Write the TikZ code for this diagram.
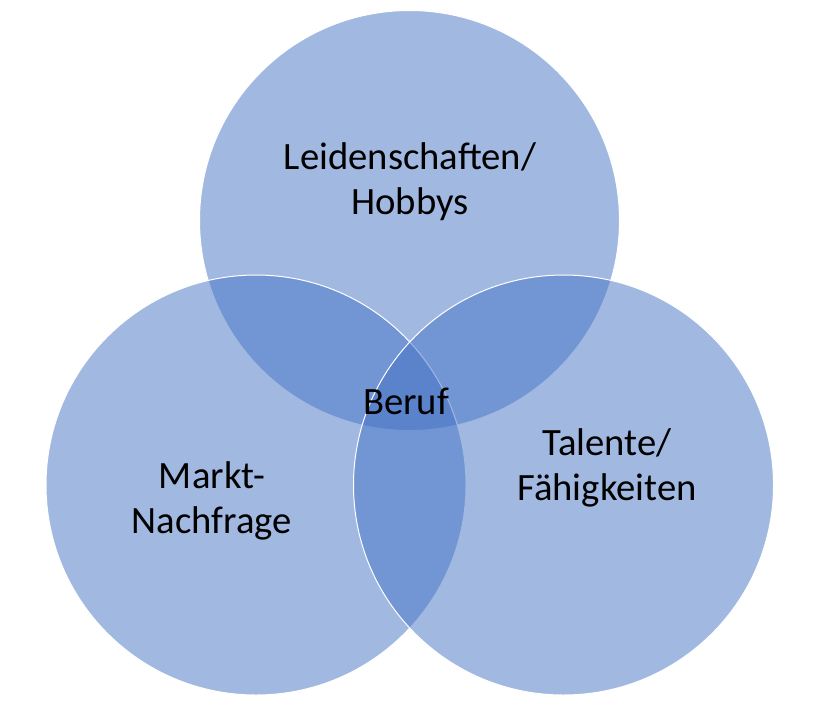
\documentclass[tikz,border=0pt]{standalone}
\usepackage{fontspec}
\setmainfont{Carlito}
\usetikzlibrary{positioning}
\definecolor{venn}{HTML}{4472C4}

\begin{document}
\begin{tikzpicture}[x=0.75pt,y=-0.75pt,
  ring/.style={circle,draw=white,line width=0.75pt,fill=venn,fill opacity=0.5,minimum size=315pt,inner sep=0pt},
  lbl/.style={align=center,font=\fontsize{29pt}{34pt}\selectfont,text=black}]
\useasboundingbox (0,0) rectangle (817,701);
\node[ring] (hobby) at (409.5,220.5) {};
\node[ring] (markt) at (256,485) {};
\node[ring] (talent) at (563.5,485) {};
\node[lbl] (thobby) at (410,182) {Leidenschaften/\\Hobbys};
\node[lbl] (tmarkt) at (212,501) {Markt-\\Nachfrage};
\node[lbl] (ttalent) at (607,468) {Talente/\\Fähigkeiten};
\node[lbl] (beruf) at (406,401) {Beruf};
\end{tikzpicture}
\end{document}
